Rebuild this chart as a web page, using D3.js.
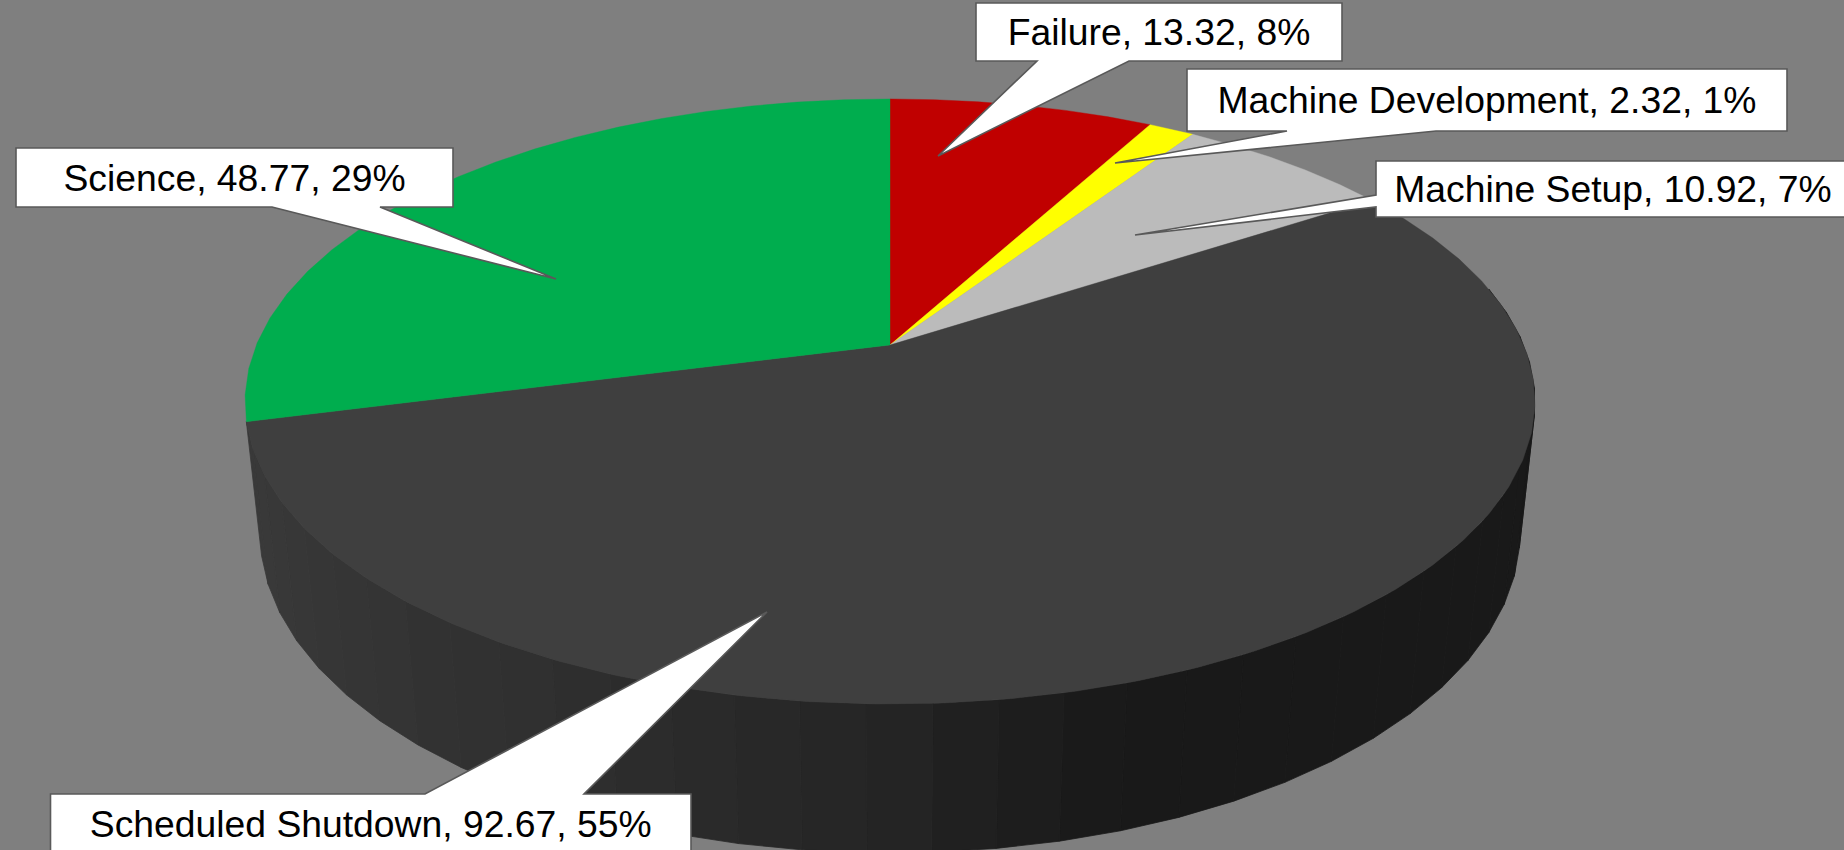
<!DOCTYPE html>
<html>
<head>
<meta charset="utf-8">
<script src="https://cdn.jsdelivr.net/npm/d3@7"></script>
<style>
  html, body { margin: 0; padding: 0; background: #7f7f7f; overflow: hidden; }
  svg { display: block; }
</style>
</head>
<body>
<div id="chart"></div>
<script>
// Data, clockwise from 12 o'clock
const categories = ["Failure", "Machine Development", "Machine Setup", "Scheduled Shutdown", "Science"];
const values = [13.32, 2.32, 10.92, 92.67, 48.77];
const percents = ["8%", "1%", "7%", "55%", "29%"];
const colors = ["#c00000", "#ffff00", "#bbbbbb", "#3f3f3f", "#00ad4e"];

const width = 1844, height = 850;

// Perspective of the tilted disc
const view = { cx: 890, cy: 345, a: 633.7, b: 292, k: 0.1868, m: 0.0231, h: 132.8 };

// Callout boxes, pixel layout only. tail = base start, tip, base end
const callouts = [
  { x: 976, y: 3, w: 366, h: 58, side: "bottom", tail: [[1129, 61], [938, 156], [1037, 61]] },
  { x: 1187, y: 69, w: 600, h: 62, side: "bottom", tail: [[1436, 131], [1115, 163], [1287, 131]] },
  { x: 1376, y: 161, w: 474, h: 56, side: "left", tail: [[1376, 207], [1135, 235], [1376, 195]] },
  { x: 50.5, y: 794, w: 640.5, h: 59, side: "top", tail: [[425, 794], [767, 612], [584, 794]] },
  { x: 16, y: 148, w: 437, h: 59, side: "bottom", tail: [[380, 207], [556, 279], [272, 207]] }
];

function project(theta, r, z) {
  const u = r * Math.sin(theta), v = r * Math.cos(theta);
  const w = 1 + view.k * v + view.m * z;
  return [view.cx + view.a * u / w, view.cy + (-view.b * v + view.h * z) / w];
}

const svg = d3.select("#chart").append("svg")
  .attr("width", width)
  .attr("height", height);

svg.append("rect")
  .attr("width", width)
  .attr("height", height)
  .attr("fill", "#7f7f7f");

const slices = d3.pie().sort(null).value(d => d)(values);
const line = d3.line();

// The rim is a polygon in the reference, about 5 degrees a side
const facet = 2 * Math.PI / 72;

function arcAngles(start, end) {
  const n = Math.max(1, Math.ceil((end - start) / facet));
  return d3.range(n + 1).map(i => start + (end - start) * i / n);
}

// Side wall. Only the front part can be seen
const wallShade = d3.scaleLinear()
  .domain([-1, -0.5, 0, 0.3, 1])
  .range(["#3a3a3a", "#303030", "#242424", "#191919", "#191919"])
  .clamp(true);

const wallAngles = arcAngles(Math.PI / 2 - 0.2, slices[3].endAngle);

svg.append("g")
  .selectAll("path")
  .data(d3.pairs(wallAngles))
  .join("path")
  .attr("d", ([t1, t2]) => line([project(t1, 1, 0), project(t2, 1, 0), project(t2, 1, 1), project(t1, 1, 1)]) + "Z")
  .attr("fill", ([t1, t2]) => wallShade(Math.sin((t1 + t2) / 2)))
  .attr("stroke", ([t1, t2]) => wallShade(Math.sin((t1 + t2) / 2)))
  .attr("stroke-width", 0.8);

// Top face
svg.append("g")
  .selectAll("path")
  .data(slices)
  .join("path")
  .attr("d", d => line([project(0, 0, 0)].concat(arcAngles(d.startAngle, d.endAngle).map(t => project(t, 1, 0)))) + "Z")
  .attr("fill", (d, i) => colors[i])
  .attr("stroke", (d, i) => colors[i])
  .attr("stroke-width", 0.4);

// Callouts
function calloutPath(c) {
  const x0 = c.x, y0 = c.y, x1 = c.x + c.w, y1 = c.y + c.h;
  const t = c.tail;
  let pts;
  if (c.side === "top") pts = [[x0, y0], ...t, [x1, y0], [x1, y1], [x0, y1]];
  else if (c.side === "bottom") pts = [[x0, y0], [x1, y0], [x1, y1], ...t, [x0, y1]];
  else pts = [[x0, y0], [x1, y0], [x1, y1], [x0, y1], ...t];
  return line(pts) + "Z";
}

const labels = svg.append("g")
  .selectAll("g")
  .data(categories)
  .join("g");

labels.append("path")
  .attr("d", (d, i) => calloutPath(callouts[i]))
  .attr("fill", "#ffffff")
  .attr("stroke", "#595959")
  .attr("stroke-width", 1.6)
  .attr("stroke-linejoin", "miter");

labels.append("text")
  .attr("x", (d, i) => callouts[i].x + callouts[i].w / 2)
  .attr("y", (d, i) => callouts[i].y + callouts[i].h / 2)
  .attr("dy", "0.35em")
  .attr("text-anchor", "middle")
  .attr("font-family", "'Liberation Sans', Arial, sans-serif")
  .attr("font-size", "37.3px")
  .attr("fill", "#000")
  .text((d, i) => `${d}, ${values[i].toFixed(2)}, ${percents[i]}`);
</script>
</body>
</html>
